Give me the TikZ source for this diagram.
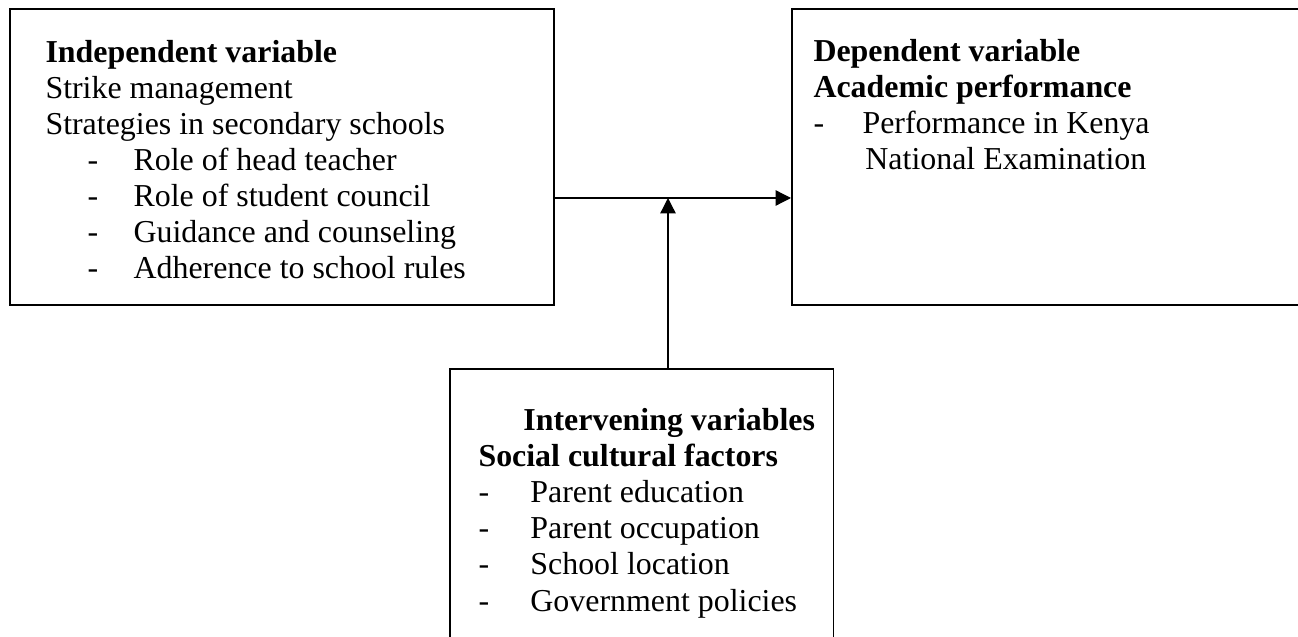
\documentclass[tikz,border=0pt]{standalone}
\usepackage{fontspec}
\setmainfont{Liberation Serif}
\usetikzlibrary{arrows.meta}

\begin{document}
\begin{tikzpicture}[x=0.3871pt,y=-0.3871pt,
    box/.style={draw,line width=0.6pt,rectangle,inner sep=0pt,anchor=north west},
    txt/.style={anchor=base west,align=left,inner sep=0pt,font=\fontsize{12.35}{14}\selectfont},
    link/.style={draw,line width=0.5pt,-{Triangle[length=6pt,width=6pt]}}]
  \useasboundingbox (0,0) rectangle (1298,637);
  % the three boxes
  \node[box,minimum width=210.6pt,minimum height=114.6pt] (indep) at (9,8) {};
  \node[box,minimum width=205pt,minimum height=114.6pt] (dep) at (791,8) {};
  \node[box,minimum width=148.6pt,minimum height=107.2pt] (interv) at (449,368) {};
  % their texts (base = last line)
  \node[txt] (indeptxt) at (45,279) {\textbf{Independent variable}\\
    Strike management\\
    Strategies in secondary schools\\
    \hspace*{16.3pt}\makebox[17.8pt][l]{-}Role of head teacher\\
    \hspace*{16.3pt}\makebox[17.8pt][l]{-}Role of student council\\
    \hspace*{16.3pt}\makebox[17.8pt][l]{-}Guidance and counseling\\
    \hspace*{16.3pt}\makebox[17.8pt][l]{-}Adherence to school rules};
  \node[txt] (deptxt) at (813,170) {\textbf{Dependent variable}\\
    \textbf{Academic performance}\\
    \makebox[19pt][l]{-}Performance in Kenya\\
    \hspace*{20.1pt}National Examination};
  \node[txt] (intervtxt) at (478,611) {\hspace*{17.4pt}\textbf{Intervening variables}\\
    \textbf{Social cultural factors}\\
    \makebox[20.1pt][l]{-}Parent education\\
    \makebox[20.1pt][l]{-}Parent occupation\\
    \makebox[20.1pt][l]{-}School location\\
    \makebox[20.1pt][l]{-}Government policies};
  % arrows
  \coordinate (mid) at (668,198);
  \draw[link] (indep.east |- mid) -- (dep.west |- mid);
  \draw[link] (interv.north -| mid) -- (mid);
\end{tikzpicture}
\end{document}
